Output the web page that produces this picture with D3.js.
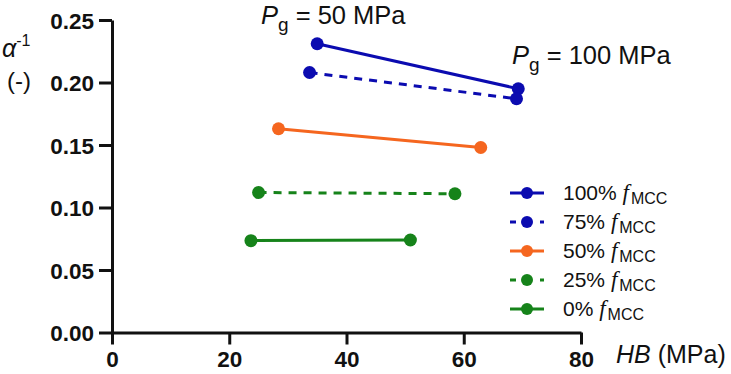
<!DOCTYPE html>
<html>
<head>
<meta charset="utf-8">
<script src="https://cdn.jsdelivr.net/npm/d3@7"></script>
<style>
  body { margin: 0; background: #fff; }
  svg { font-family: "Liberation Sans", Arial, sans-serif; }
</style>
</head>
<body>
<div id="chart"></div>
<script>
// series names, in legend order
const seriesNames = ["100%", "75%", "50%", "25%", "0%"];
const seriesColors = ["#0b0bb0", "#0b0bb0", "#f5661f", "#16831a", "#16831a"];
const seriesDashed = [false, true, false, true, false];
// HB (MPa) at Pg = 50 and Pg = 100
const hbValues = [[35.0, 69.3], [33.7, 69.0], [28.4, 62.9], [25.0, 58.5], [23.7, 50.9]];
// alpha^-1 at Pg = 50 and Pg = 100
const alphaValues = [[0.231, 0.195], [0.208, 0.187], [0.163, 0.148], [0.112, 0.111], [0.0735, 0.074]];
const xTicks = [0, 20, 40, 60, 80];
const yTicks = [0, 0.05, 0.10, 0.15, 0.20, 0.25];

const W = 731, H = 374;
const margin = {top: 20, right: 150, bottom: 41, left: 112};

const svg = d3.select("#chart").append("svg")
    .attr("width", W).attr("height", H);

const x = d3.scaleLinear().domain([0, 80]).range([margin.left, 581]);
const y = d3.scaleLinear().domain([0, 0.25]).range([332.5, margin.top]);

// axes
const xAxis = svg.append("g")
    .attr("transform", "translate(0," + y(0) + ")")
    .call(d3.axisBottom(x).tickValues(xTicks).tickSize(12).tickSizeOuter(0).tickPadding(7).tickFormat(d3.format("d")));
const yAxis = svg.append("g")
    .attr("transform", "translate(" + x(0) + ",0)")
    .call(d3.axisLeft(y).tickValues(yTicks).tickSize(13).tickSizeOuter(0).tickPadding(5).tickFormat(d3.format(".2f")));

[xAxis, yAxis].forEach(g => {
    g.select(".domain").attr("stroke", "#111").attr("stroke-width", 3);
    g.selectAll(".tick line").attr("stroke", "#111").attr("stroke-width", 3);
    g.selectAll(".tick text")
        .attr("fill", "#111")
        .style("font-size", "22.5px")
        .style("font-weight", "bold")
        .style("font-family", "'Liberation Sans', Arial, sans-serif");
});
yAxis.selectAll(".tick text").attr("dy", "0.36em");

// series
const data = seriesNames.map((name, i) => ({
    name: name,
    color: seriesColors[i],
    dashed: seriesDashed[i],
    points: hbValues[i].map((hb, j) => ({hb: hb, a: alphaValues[i][j]}))
}));

const line = d3.line().x(d => x(d.hb)).y(d => y(d.a));

const groups = svg.selectAll(".series").data(data).enter().append("g").attr("class", "series");
groups.append("path")
    .attr("d", d => line(d.points))
    .attr("fill", "none")
    .attr("stroke", d => d.color)
    .attr("stroke-width", 3)
    .attr("stroke-dasharray", d => d.dashed ? "8,7" : null);
groups.selectAll("circle")
    .data(d => d.points.map(p => ({...p, color: d.color})))
    .enter().append("circle")
    .attr("cx", d => x(d.hb))
    .attr("cy", d => y(d.a))
    .attr("r", 6.5)
    .attr("fill", d => d.color);

// annotations
function pgLabel(xPos, yPos, txt) {
    const t = svg.append("text").attr("x", xPos).attr("y", yPos)
        .style("font-size", "25.5px").attr("fill", "#111");
    t.append("tspan").style("font-style", "italic").text("P");
    t.append("tspan").attr("dy", 7).style("font-size", "19px").text("g");
    t.append("tspan").attr("dy", -7).text(" = " + txt);
}
pgLabel(261, 24, "50 MPa");
pgLabel(512, 64, "100 MPa");

// axis titles
const yt = svg.append("text").attr("x", 2).attr("y", 57).style("font-size", "25px").attr("fill", "#111");
yt.append("tspan").style("font-style", "italic").text("α");
yt.append("tspan").attr("dy", -11).style("font-size", "16px").text("-1");
svg.append("text").attr("x", 7).attr("y", 89).style("font-size", "24px").attr("fill", "#111").text("(-)");

const xt = svg.append("text").attr("x", 616).attr("y", 363).style("font-size", "25px").attr("fill", "#111");
xt.append("tspan").style("font-style", "italic").text("HB");
xt.append("tspan").text(" (MPa)");

// legend
const legend = svg.append("g");
const lg = legend.selectAll("g").data(data).enter().append("g")
    .attr("transform", (d, i) => "translate(510," + (193 + i * 29) + ")");
lg.append("line")
    .attr("x1", 0).attr("x2", 34).attr("y1", 0).attr("y2", 0)
    .attr("stroke", d => d.color).attr("stroke-width", 3)
    .attr("stroke-dasharray", d => d.dashed ? "6,24,4,100" : null);
lg.append("circle").attr("cx", 17).attr("cy", 0).attr("r", 6).attr("fill", d => d.color);
const lt = lg.append("text").attr("x", 53).attr("y", 7).style("font-size", "21px").attr("fill", "#111");
lt.append("tspan").text(d => d.name + " ");
lt.append("tspan").style("font-style", "italic").style("font-family", "'Liberation Serif', serif").style("font-size", "23px").text("f");
lt.append("tspan").attr("dx", 2).attr("dy", 4).style("font-size", "16px").text("MCC");
</script>
</body>
</html>
